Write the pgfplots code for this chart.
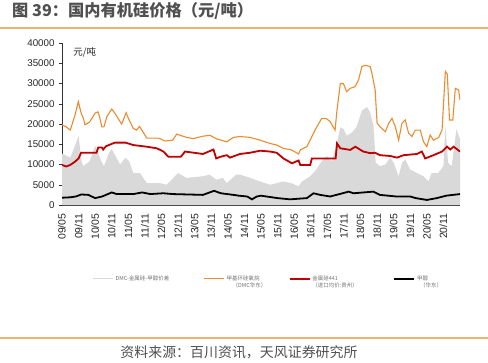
\documentclass[border=0pt]{standalone}
\usepackage{pgfplots}
\pgfplotsset{compat=1.18}
\usepackage{fontspec}
\setmainfont{Liberation Sans}
\newfontfamily\cjk{Noto Sans CJK SC}
\definecolor{dmc}{HTML}{ED8B2F}
\definecolor{si}{HTML}{C00000}
\definecolor{spread}{HTML}{D9D9D9}
\definecolor{titlegray}{HTML}{505050}
\definecolor{rule}{HTML}{F2B072}
\begin{document}
\begin{tikzpicture}[x=1bp,y=1bp]
\path[use as bounding box] (0,0) rectangle (488,362);
\node[anchor=west, inner sep=0pt, text=titlegray, font=\cjk\bfseries\fontsize{16.3}{18}\selectfont] at (12,351) {图 39：国内有机硅价格（元/吨）};
\draw[rule, line width=1.2bp] (0,334) -- (488,334);
\draw[rule, line width=1.2bp] (0,24) -- (488,24);
\node[inner sep=0pt, text=titlegray, font=\cjk\fontsize{14}{16}\selectfont] at (239,10) {资料来源：百川资讯，天风证券研究所};
\begin{axis}[
  at={(62bp,157bp)}, anchor=south west,
  scale only axis, width=398bp, height=162bp,
  xmin=0, xmax=144, ymin=0, ymax=40000,
  axis lines*=left,
  axis line style={black!80, line width=0.6pt},
  xtick={0,6,...,138},
  xticklabels={09/05,09/11,10/05,10/11,11/05,11/11,12/05,12/11,13/05,13/11,14/05,14/11,15/05,15/11,16/05,16/11,17/05,17/11,18/05,18/11,19/05,19/11,20/05,20/11},
  ytick={0,5000,...,40000},
  scaled y ticks=false,
  yticklabel style={/pgf/number format/1000 sep={}, font=\fontsize{9.8}{11}\selectfont},
  /pgf/number format/assume math mode=true,
  tick label style={text=black!85},
  xticklabel style={rotate=90, anchor=east, font=\fontsize{10.5}{12}\selectfont},
  xticklabel shift=5bp,
  yticklabel shift=4bp,
  tick align=inside,
  major tick length=3bp,
  y tick style={xshift=-3bp},
  tick style={black!80, line width=0.5pt},
  legend columns=4,
  legend style={at={(0.0675,-0.41)}, anchor=north west, draw=none, fill=none,
    font=\cjk\fontsize{5.5}{7}\selectfont, text=black!55,
    /tikz/every even column/.append style={column sep=0bp},
    cells={anchor=west}},
  legend image code/.code={\draw[#1] (0bp,0bp) -- (20bp,0bp);},
]
\addplot[fill=spread, draw=none, forget plot] coordinates {
(0,12700)(3,11700)(4.7,14600)(6,17100)(7,11000)(7.7,9600)(10,10800)(12,14600)(14.5,10400)(15.2,9600)(17,12900)(18,13800)(21,10000)(23,11700)(24.3,10800)(25.8,7900)(28.2,7900)(30.7,5400)(35.5,5400)(37.9,5000)(42,7900)(45,6700)(51,7100)(53.4,7500)(55.8,6250)(58.2,6700)(59.6,5400)(63,7500)(64.4,7500)(68,6700)(71.7,5800)(75.3,5000)(77.7,5400)(80,5800)(83,5400)(85.6,4600)(86.8,5800)(89.8,7100)(92,8750)(94,10800)(95.8,12100)(97.6,10800)(99.5,15400)(100.7,19200)(101.9,18750)(103,17100)(104.9,17900)(106.5,19200)(108.5,23300)(110.3,24200)(111.5,22900)(112.7,19600)(113.5,10400)(115.1,9600)(117,10000)(118.8,11700)(120,10400)(121.8,7100)(123,10400)(124.2,11200)(126,8750)(128.4,7900)(130.8,7100)(132.6,5800)(133.7,7900)(136.1,7900)(138,9600)(138.7,19600)(139.7,10400)(141,9600)(142.7,18750)(144,16250)
} \closedcycle;
\addlegendimage{spread, line width=1.5bp}
\addlegendentry{\parbox[t]{86bp}{DMC-金属硅-甲醇价差}}
\addplot[dmc, line width=1.1bp] coordinates {
(0,19800)(1.5,19300)(3,18500)(4.7,22200)(5.9,25500)(7,22500)(7.7,21500)(8.3,19800)(10,20500)(12,22700)(13,23000)(13.6,21800)(14.4,19300)(15.2,19300)(16.2,21800)(18,23700)(19.2,22600)(21,20600)(21.6,20000)(23.2,22800)(24,21400)(25.8,18900)(27,18500)(28,19400)(28.8,18600)(30.7,16500)(33,16500)(35,16500)(37.3,15800)(40,16000)(41.5,17500)(45,16700)(47.5,16400)(51,17000)(53.6,17200)(56,16300)(59.6,15600)(62,16700)(64.4,16900)(68,16700)(71.7,16000)(75.3,15200)(77.7,14800)(80,14000)(83,13600)(85.6,12600)(86.2,13600)(88.6,14400)(90.4,16900)(92.2,19300)(94,21400)(95.5,21400)(97,20600)(98.8,18500)(99.5,23500)(100.7,30000)(101.8,30000)(103,28000)(104.2,28800)(106,29200)(107.3,30900)(108.5,34200)(109.7,34500)(111.5,34200)(112.1,32600)(113.3,28400)(114,20200)(115.1,19300)(117,18100)(118.2,20200)(119.4,21400)(120.6,19300)(121.8,16000)(123,20200)(124.2,21000)(125.4,17700)(126.6,16900)(127.8,18500)(129.6,18500)(130.8,15600)(132,14400)(133.2,17300)(134.4,16000)(136.3,16700)(137.5,18500)(138.7,33000)(139.4,32300)(140.2,21000)(141.4,21000)(142.3,28800)(143.5,28400)(144,25900)
};
\addlegendentry{\parbox[t]{60bp}{甲基环硅氧烷\\\hspace*{6bp}（DMC华东）}}
\addplot[si, line width=1.8bp] coordinates {
(0,9900)(1.5,9500)(3,9900)(4.7,10700)(6,11500)(6.9,12900)(12.5,12900)(13.1,14200)(14.5,14200)(14.9,13700)(15.9,14500)(18,15100)(19.2,15400)(23,15400)(25.8,14800)(30.6,14400)(34.3,14000)(36.7,13200)(38.5,11900)(43,11900)(44.5,13200)(51,12600)(54.8,13700)(55.8,11500)(57.3,11900)(59.6,12300)(60.8,11700)(64.4,12600)(68,12900)(71.7,13400)(75.3,13200)(77.7,12900)(80.1,11500)(83.2,10300)(85.6,11000)(86.2,9900)(89.8,9900)(90.4,11500)(97,11500)(99,11500)(99.5,15200)(100.7,14000)(104.3,13600)(106.1,14400)(109,13200)(111.5,12800)(113.3,12900)(115.1,12300)(118.8,12100)(121.2,11700)(123.6,12300)(128.4,12600)(130.2,13200)(131.4,11500)(134.4,12300)(137.5,13200)(139.3,14400)(140.5,13700)(141.7,14400)(144,13200)
};
\addlegendentry{\parbox[t]{79bp}{金属硅441\\（进口均价:贵州）}}
\addplot[black, line width=1.8bp] coordinates {
(0,1800)(3,1900)(5,2100)(7,2600)(9.5,2500)(12,1700)(14.5,2100)(18,3100)(19.8,2700)(25.8,2700)(29,3100)(32,2700)(36.7,2900)(40,2700)(51,2500)(55,3500)(57.5,2900)(62,2500)(64,2300)(67,2100)(68.7,1400)(70.5,2100)(72,2300)(78,1700)(82.5,1400)(88.6,1700)(91,2900)(93.4,2500)(97,2100)(100.7,2750)(103.7,3300)(105.5,2900)(109,3100)(112.7,3300)(115,2500)(121,2100)(126,2100)(128,1700)(132,1250)(135.6,1700)(139,2300)(144,2700)
};
\addlegendentry{\parbox[t]{30bp}{甲醇\\\hspace*{3bp}（华东）}}
\node[anchor=west, inner sep=0pt, font=\cjk\fontsize{9.5}{10}\selectfont, text=black!85] at (rel axis cs:0.028,0.94) {元/吨};
\end{axis}
\end{tikzpicture}
\end{document}
